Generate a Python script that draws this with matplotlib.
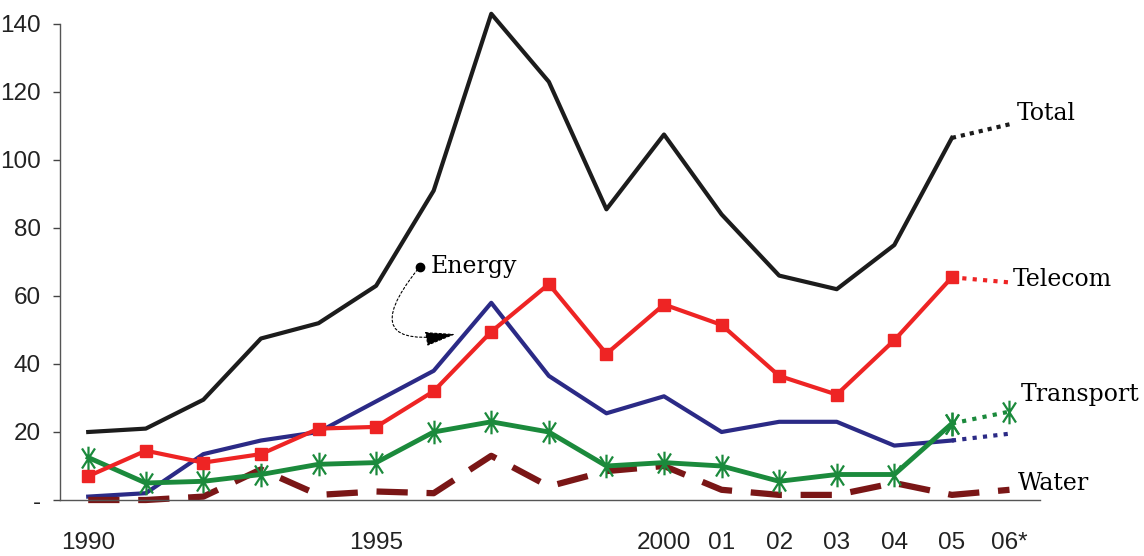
import numpy as np
import matplotlib
matplotlib.use('Agg')
import matplotlib.pyplot as plt
from matplotlib.path import Path
from matplotlib import font_manager

YEARS = list(range(1990, 2006))
TOTAL = [20, 21, 29.5, 47.5, 52, 63, 91, 143, 123, 85.5, 107.5, 84, 66, 62, 75, 106.5]
TELECOM = [7, 14.5, 11, 13.5, 21, 21.5, 32, 49.5, 63.5, 43, 57.5, 51.5, 36.5, 31, 47, 65.5]
ENERGY = [1, 2, 13.5, 17.5, 20, 29, 38, 58, 36.5, 25.5, 30.5, 20, 23, 23, 16, 17.5]
TRANSPORT = [12.5, 5, 5.5, 7.5, 10.5, 11, 20, 23, 20, 10, 11, 10, 5.5, 7.5, 7.5, 22.5]
WATER = [0, 0, 1, 9, 1.5, 2.5, 2, 13, 4, 8.5, 10, 3, 1.5, 1.5, 5, 1.5, 3]

# 2006 projections (dotted segments 2005 -> 2006)
PROJ_YEARS = [2005, 2006]
TOTAL_PROJ = [106.5, 110.5]
TELECOM_PROJ = [65.5, 64]
ENERGY_PROJ = [17.5, 19.5]
TRANSPORT_PROJ = [22.5, 26]

XTICKS = [1990, 1995, 2000, 2001, 2002, 2003, 2004, 2005, 2006]
XTICKLABELS = ['1990', '1995', '2000', '01', '02', '03', '04', '05', '06*']
YTICKS = [0, 20, 40, 60, 80, 100, 120, 140]
YTICKLABELS = ['-', '20', '40', '60', '80', '100', '120', '140']

names = {f.name for f in font_manager.fontManager.ttflist}
tick_font = 'Liberation Sans Narrow' if 'Liberation Sans Narrow' in names else 'Liberation Sans'
label_font = 'DejaVu Serif'

C_TOTAL = '#1c1c1c'
C_TELECOM = '#ee2424'
C_ENERGY = '#2b2a86'
C_TRANSPORT = '#1b8a3c'
C_WATER = '#7a1616'

star = Path([(0, -1), (0, 1), (-0.55, -0.85), (0.55, 0.85), (-0.55, 0.85), (0.55, -0.85)],
            [Path.MOVETO, Path.LINETO, Path.MOVETO, Path.LINETO, Path.MOVETO, Path.LINETO])

fig = plt.figure(figsize=(11.44, 5.56), dpi=100)
ax = fig.add_axes([60 / 1144, 56 / 556, 980 / 1144, 476 / 556])

ax.plot(YEARS, TOTAL, color=C_TOTAL, lw=3, clip_on=False)
ax.plot(PROJ_YEARS, TOTAL_PROJ, color=C_TOTAL, lw=3, linestyle=(0, (1, 1.2)))

ax.plot(YEARS, ENERGY, color=C_ENERGY, lw=3)
ax.plot(PROJ_YEARS, ENERGY_PROJ, color=C_ENERGY, lw=3, linestyle=(0, (1, 1.5)))

ax.plot(YEARS + [2006], WATER, color=C_WATER, lw=4.5, linestyle=(0, (5, 3)), clip_on=False)

ax.plot(YEARS, TRANSPORT, color=C_TRANSPORT, lw=3.5, marker=star, markersize=17,
        markeredgewidth=1.6, markeredgecolor=C_TRANSPORT, clip_on=False)
ax.plot(PROJ_YEARS, TRANSPORT_PROJ, color=C_TRANSPORT, lw=3, linestyle=(0, (1, 1.5)),
        marker=star, markersize=17, markeredgewidth=1.6, markeredgecolor=C_TRANSPORT)

ax.plot(YEARS, TELECOM, color=C_TELECOM, lw=3, marker='s', markersize=8.5)
ax.plot(PROJ_YEARS, TELECOM_PROJ, color=C_TELECOM, lw=3, linestyle=(0, (1, 1.5)))

ax.set_xlim(1989.51, 2006.53)
ax.set_ylim(0, 140)

ax.set_xticks(XTICKS)
ax.set_xticklabels(XTICKLABELS)
ax.set_yticks(YTICKS)
ax.set_yticklabels(YTICKLABELS)
ax.tick_params(axis='x', length=0, pad=23)
ax.tick_params(axis='y', length=5, width=1, pad=9, color='#444444', direction='out')
for lab in ax.get_xticklabels() + ax.get_yticklabels():
    lab.set_fontfamily(tick_font)
    lab.set_fontsize(17.5)
    lab.set_color('#222222')

for side in ('top', 'right'):
    ax.spines[side].set_visible(False)
for side in ('left', 'bottom'):
    ax.spines[side].set_color('#555555')
    ax.spines[side].set_linewidth(1)

lab_kw = dict(fontfamily=label_font, fontsize=17, color='black', va='center', ha='left',
              clip_on=False)
ax.text(2006.13, 113.8, 'Total', **lab_kw)
ax.text(2006.06, 64.8, 'Telecom', **lab_kw)
ax.text(2006.2, 30.9, 'Transport', **lab_kw)
ax.text(2006.15, 4.8, 'Water', **lab_kw)
ax.text(1995.95, 68.8, 'Energy', **lab_kw)

ax.plot([1995.76], [68.4], 'o', color='black', markersize=6)
ax.annotate('', xy=(1996.38, 48.8), xytext=(1995.72, 67.8),
            arrowprops=dict(arrowstyle='-|>,head_length=1.2,head_width=0.28',
                            mutation_scale=16,
                            connectionstyle='arc3,rad=1.3', color='black', lw=0.8,
                            linestyle=(0, (2, 2)), shrinkA=0, shrinkB=0))

fig.savefig('out.png', dpi=100)
